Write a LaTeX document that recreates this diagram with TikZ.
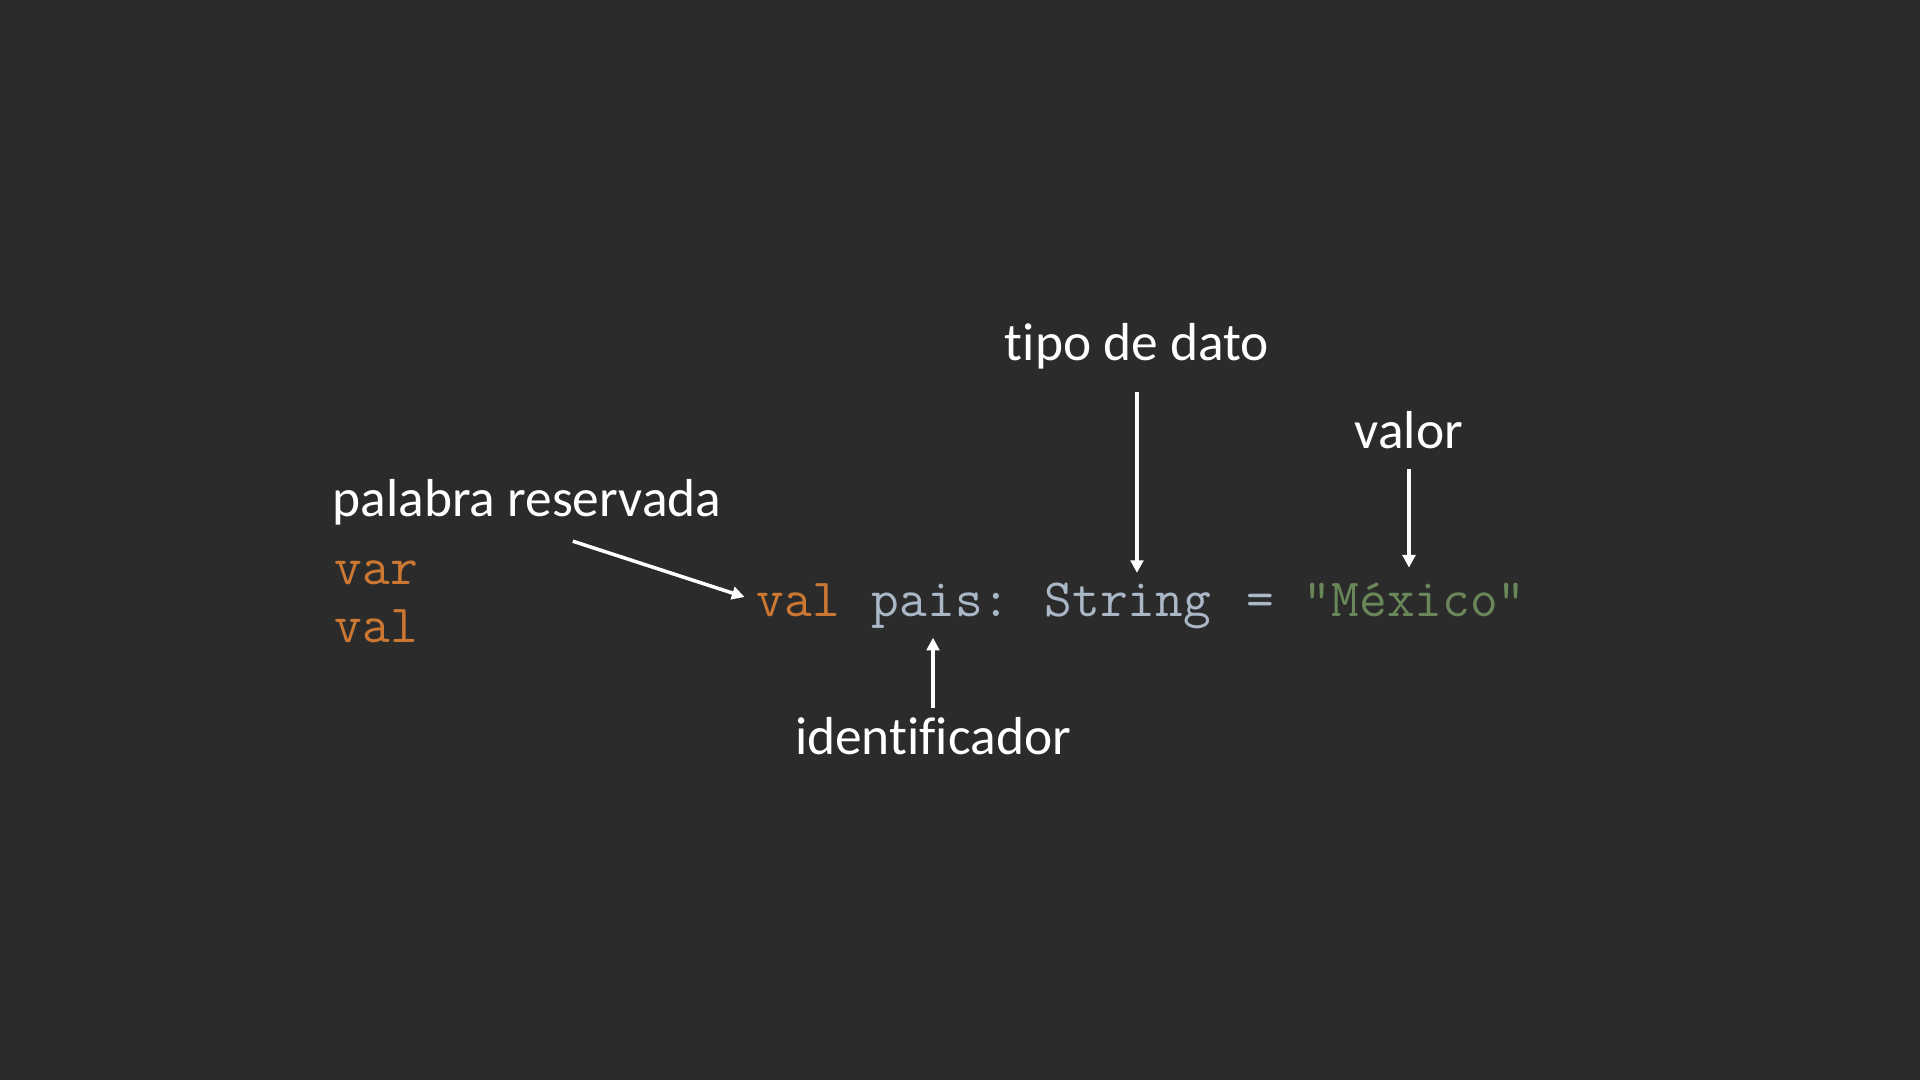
\documentclass[tikz,border=0pt]{standalone}
\usepackage{fontspec}
\setmainfont{Carlito}[Ligatures=NoCommon]
\usetikzlibrary{arrows.meta}
\definecolor{fondo}{HTML}{2B2B2B}
\definecolor{clave}{HTML}{CC7832}
\definecolor{ident}{HTML}{A9B7C6}
\definecolor{cadena}{HTML}{6A8759}
\tikzset{
  etiqueta/.style={text=white,inner sep=0pt,anchor=base,font=\fontsize{15.2pt}{18pt}\selectfont},
  codigo/.style={inner sep=0pt,anchor=base west,font=\ttfamily\fontsize{15.3pt}{18pt}\selectfont},
  flecha/.style={white,line width=1pt,-{Triangle[length=3.6pt,width=3.6pt]}}
}

\begin{document}
\begin{tikzpicture}[x=0.01cm,y=-0.01cm]
			\fill[fondo] (0,0) rectangle (1920,1080);
			\node[codigo,text=clave] (var) at (334,585) {var};
			\node[codigo,text=clave] (val) at (334,643) {val};
			\node[codigo,text=clave] (kwval) at (756,617) {val};
			\node[codigo,text=ident] (pais) at (871.2,617) {pais:};
			\node[codigo,text=ident] (tipo) at (1044,617) {String};
			\node[codigo,text=ident] (igual) at (1245.6,617) {=};
			\node[codigo,text=cadena] (valor) at (1303.2,617) {"México"};
			\node[etiqueta] (lblpal) at (527,517) {palabra reservada};
			\node[etiqueta] (lbltipo) at (1137,361) {tipo de dato};
			\node[etiqueta] (lblvalor) at (1409,449) {valor};
			\node[etiqueta] (lblid) at (933,755) {identificador};
			\draw[flecha,shorten <=13.7pt,shorten >=3.4pt] (lblpal.south) -- (kwval.west);
			\draw[flecha,shorten <=6.3pt,shorten >=2.8pt] (lbltipo.south) -- (lbltipo.south |- tipo.north);
			\draw[flecha,shorten <=5.4pt,shorten >=4.3pt] (lblvalor.south) -- (lblvalor.south |- valor.north);
			\draw[flecha,shorten <=2.6pt,shorten >=2.3pt] (lblid.north) -- (lblid.north |- pais.south);
		\end{tikzpicture}
\end{document}
